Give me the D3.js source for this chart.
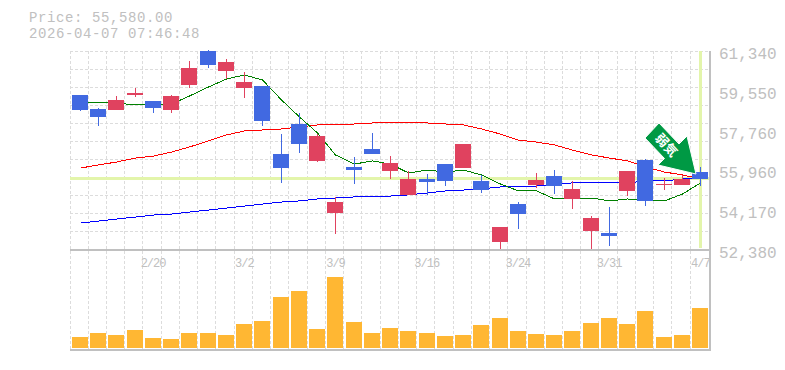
<!DOCTYPE html>
<html lang="ja">
    <head>
        <meta charset="utf-8">
        <title>Price chart</title>
        <script type="text/javascript" src="https://cdn.jsdelivr.net/npm/d3@7"></script>
        <style>
            html, body { margin: 0; padding: 0; background: #fff; }
            svg { display: block; }
        </style>
    </head>
    <body>
        <script type="text/javascript">

            //Chart data
            var dates = ["2/16","2/17","2/18","2/19","2/20","2/24","2/25","2/26","2/27","3/2","3/3","3/4","3/5","3/6","3/9","3/10","3/11","3/12","3/13","3/16","3/17","3/18","3/19","3/23","3/24","3/25","3/26","3/27","3/30","3/31","4/1","4/2","4/3","4/6","4/7"];
            var opens = [59360,58730,58685,59360,59090,58685,59810,61340,60440,59675,59765,56700,58055,56390,54050,56120,56930,55940,54860,55580,56250,56070,55490,52740,54450,55310,55710,54680,53240,53150,55040,56430,55310,55310,55890];
            var highs = [59360,58775,59315,59675,59090,59360,60890,61385,60980,60395,59765,57600,58550,57600,54770,56570,57650,56610,55940,55800,56250,57150,55760,53420,54540,55850,55980,55490,53910,54320,55940,56480,55620,55760,56120];
            var lows = [58640,57965,58685,59270,58550,58550,59675,60575,60080,59225,57965,55400,56750,56340,53100,55350,56700,55580,54860,54860,55260,56070,54950,52335,53330,55170,54900,54230,52380,52560,54810,54360,55080,55310,55260];
            var closes = [58685,58370,59135,59450,58775,59315,60575,60710,60845,59945,58190,56070,57150,57510,54540,55980,56700,56300,55580,55440,55490,57150,55080,53420,54000,55530,55260,55130,53820,53010,55940,54590,55335,55580,55580];
            var volumes = [11,15,13,18,10,9,15,15,13,24,27,51,57,19,71,26,15,20,17,15,12,13,23,30,17,14,13,17,25,30,24,37,11,13,40];
            var maShort = [59040,59040,59000,58910,58910,58950,59315,59720,60080,60260,60035,59135,58370,57650,56660,56250,56390,56250,55850,55980,55890,55980,55760,55350,55040,55040,54680,54680,54720,54590,54680,54590,54590,54900,55400];
            var maMid = [56070,56210,56340,56520,56610,56790,57020,57290,57560,57740,57785,57830,57920,58010,58010,58055,58100,58100,58100,58100,58055,58010,57830,57600,57330,57240,57110,56880,56660,56520,56390,56120,55890,55760,55580];
            var maLong = [53595,53685,53775,53865,53955,54000,54090,54180,54270,54360,54450,54540,54590,54680,54720,54770,54770,54810,54860,54950,55040,55080,55130,55220,55220,55260,55350,55400,55400,55400,55400,55490,55490,55580,55620];
            var priceTicks = [61340,59550,57760,55960,54170,52380];
            var dateTicks = ["2/20","3/2","3/9","3/16","3/24","3/31","4/7"];
            var lastPrice = 55580;
            var titleLines = ["Price: 55,580.00","2026-04-07 07:46:48"];
            var signalText = "弱気";

            //Width and height
            var w = 785;
            var h = 370;
            var left = 70;
            var right = 708.4;
            var top_ = 51;
            var priceBottom = 250;
            var volBottom = 348;

            var grey = "#c0c0c0";
            var gridGrey = "#dcdcdc";
            var mono = "'Liberation Mono', monospace";

            //Scales
            var xScale = d3.scaleBand().domain(dates).range([left, right]);
            var yScale = d3.scaleLinear().domain([52380, 61340]).range([priceBottom, top_]);
            var volScale = d3.scaleLinear().domain([0, 100]).range([volBottom, volBottom - 100]);

            var barX = function(d) { return Math.round(xScale(d)) + 2; };

            //Create SVG element
            var svg = d3.select("body")
                        .append("svg")
                        .attr("width", w)
                        .attr("height", h);

            //Grid first, so it's at the back
            var grid = svg.append("g")
                        .attr("stroke", gridGrey)
                        .attr("stroke-dasharray", "3,2")
                        .attr("shape-rendering", "crispEdges");

            grid.selectAll("line.v")
                .data(dates)
                .enter()
                .append("line")
                .attr("class", "v")
                .attr("x1", function(d) { return Math.floor(xScale(d)) + 0.5; })
                .attr("x2", function(d) { return Math.floor(xScale(d)) + 0.5; })
                .attr("y1", top_)
                .attr("y2", volBottom + 1);

            grid.selectAll("line.h")
                .data(d3.range(0, 11))
                .enter()
                .append("line")
                .attr("class", "h")
                .attr("x1", left)
                .attr("x2", right)
                .attr("y1", function(d) { return top_ + 18 * d + 0.5; })
                .attr("y2", function(d) { return top_ + 18 * d + 0.5; });

            //Crosshair on the last price
            svg.append("rect")
                .attr("x", left)
                .attr("y", Math.round(yScale(lastPrice)) - 2)
                .attr("width", right - left + 1)
                .attr("height", 3)
                .attr("fill", "#e3f5ab");

            svg.append("rect")
                .attr("x", Math.round(xScale("4/7")) + 9)
                .attr("y", top_)
                .attr("width", 3)
                .attr("height", 197)
                .attr("fill", "#e3f5ab");

            //Moving averages
            var maLine = d3.line()
                        .x(function(d, i) { return Math.round(xScale(dates[i])) + 10.5; })
                        .y(function(d) { return yScale(d); });

            [[maLong, "#0000ff"], [maMid, "#ff0000"], [maShort, "#008000"]].forEach(function(s) {
                svg.append("path")
                    .attr("d", maLine(s[0]))
                    .attr("fill", "none")
                    .attr("stroke", s[1])
                    .attr("stroke-width", 1)
                    .attr("shape-rendering", "crispEdges");
            });

            //Candles
            var candleColor = function(i) { return closes[i] >= opens[i] ? "#e0425f" : "#4169e1"; };

            var candles = svg.append("g").attr("shape-rendering", "crispEdges");

            candles.selectAll("rect.wick")
                .data(dates)
                .enter()
                .append("rect")
                .attr("class", "wick")
                .attr("x", function(d) { return barX(d) + 8; })
                .attr("y", function(d, i) { return Math.round(yScale(highs[i])); })
                .attr("width", 1)
                .attr("height", function(d, i) { return Math.round(yScale(lows[i])) - Math.round(yScale(highs[i])); })
                .attr("fill", function(d, i) { return candleColor(i); });

            candles.selectAll("rect.body")
                .data(dates)
                .enter()
                .append("rect")
                .attr("class", "body")
                .attr("x", barX)
                .attr("y", function(d, i) { return Math.round(yScale(Math.max(opens[i], closes[i]))); })
                .attr("width", 16)
                .attr("height", function(d, i) {
                    return Math.max(1, Math.round(yScale(Math.min(opens[i], closes[i]))) - Math.round(yScale(Math.max(opens[i], closes[i]))));
                })
                .attr("fill", function(d, i) { return candleColor(i); });

            //Volume bars
            svg.append("g")
                .attr("shape-rendering", "crispEdges")
                .selectAll("rect")
                .data(dates)
                .enter()
                .append("rect")
                .attr("x", barX)
                .attr("y", function(d, i) { return volScale(volumes[i]); })
                .attr("width", 16)
                .attr("height", function(d, i) { return volBottom - volScale(volumes[i]); })
                .attr("fill", "#ffb733");

            //Frame lines
            var frame = svg.append("g")
                        .attr("fill", grey)
                        .attr("shape-rendering", "crispEdges");
            frame.append("rect").attr("x", left).attr("y", priceBottom - 1).attr("width", 640).attr("height", 2);
            frame.append("rect").attr("x", left).attr("y", volBottom + 1).attr("width", 641).attr("height", 2);
            frame.append("rect").attr("x", 709).attr("y", top_).attr("width", 2).attr("height", 300);

            //Axes
            var yAxis = d3.axisRight(yScale)
                        .tickValues(priceTicks)
                        .tickSize(0)
                        .tickFormat(d3.format(","));

            var yG = svg.append("g")
                        .attr("transform", "translate(719,0)")
                        .call(yAxis);
            yG.select(".domain").remove();
            yG.selectAll("text")
                .attr("x", 0)
                .attr("dy", 7.5)
                .attr("fill", grey)
                .attr("font-family", mono)
                .attr("font-size", "16px");

            var xAxis = d3.axisBottom(xScale)
                        .tickValues(dateTicks)
                        .tickSize(0);

            var xG = svg.append("g")
                        .attr("transform", "translate(1," + priceBottom + ")")
                        .call(xAxis);
            xG.select(".domain").remove();
            xG.selectAll("text")
                .attr("y", 17)
                .attr("dy", 0)
                .attr("fill", grey)
                .attr("font-family", mono)
                .attr("font-size", "12px")
                .attr("letter-spacing", "-1px");

            //Price and time at the top
            svg.selectAll("text.title")
                .data(titleLines)
                .enter()
                .append("text")
                .attr("class", "title")
                .text(function(d) { return d; })
                .attr("x", 29)
                .attr("y", function(d, i) { return 22 + 16 * i; })
                .attr("fill", grey)
                .attr("font-family", mono)
                .attr("font-size", "14px")
                .attr("letter-spacing", "0.6px");

            //Signal arrow
            var arrowPoints = [[659,123],[645,138],[664.5,158.5],[658,165],[696,174],[687,136],[679,144]];
            svg.append("polygon")
                .attr("points", arrowPoints.join(" "))
                .attr("fill", "#009944")
                .attr("stroke", "#fff")
                .attr("stroke-width", 1);

            svg.append("text")
                .text(signalText)
                .attr("transform", "translate(666.5,145) rotate(47)")
                .attr("text-anchor", "middle")
                .attr("dy", "0.36em")
                .attr("fill", "#fff")
                .attr("font-family", "'Noto Sans CJK JP'")
                .attr("font-weight", "bold")
                .attr("font-size", "13px");

        </script>
    </body>
</html>
